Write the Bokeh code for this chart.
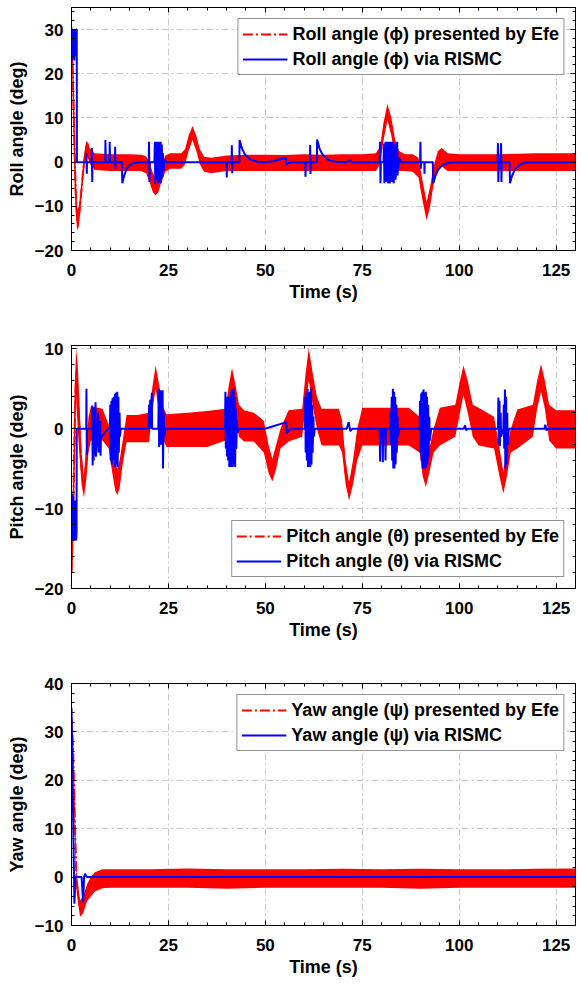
from bokeh.plotting import figure
from bokeh.models import (Range1d, SingleIntervalTicker, LinearAxis, Legend, LegendItem,
                          CustomLabelingPolicy)
from bokeh.layouts import column
from bokeh.embed import file_html
from bokeh.resources import INLINE

FONT = "Liberation Sans"

# ---------------- data ----------------
x_ticks_interval = 25
time_range = (0, 130)

# Roll: Efe response (noisy band: upper / lower envelope)
roll_efe_t = [0, 0.4, 0.8, 1.2, 1.5, 1.9, 2.3, 3.0, 3.5, 3.9, 4.4, 4.8, 6, 10, 15, 18, 19.3, 20.3, 21.0, 21.7,
              22.4, 23.2, 24.2, 25.5, 28.3, 29.3, 30.2, 31.2, 32.2, 33.1, 34.2, 36, 40, 45, 50, 55, 60, 65,
              70, 75, 78.5, 79.6, 80.5, 81.5, 82.5, 83.5, 84.5, 86, 88, 89.5, 90.5, 91.6, 92.5, 93.4, 94.5,
              95.5, 97, 100, 105, 110, 115, 120, 125, 130]
roll_efe_hi = [32, 25, 10, -5, -11, -10, -7, 0, 3.5, 4.8, 4.2, 3, 2, 1.8, 1.8, 1.7, 1.3, -0.5, -2.5, -3.5,
               -2.8, -0.8, 1.5, 2, 2, 3, 6, 8.2, 6, 3, 1.2, 1, 1.5, 1.7, 1.7, 1.6, 1.8, 1.7,
               1.8, 1.8, 2, 3.5, 9, 13.2, 10, 5, 2.5, 1.8, 1.8, 1, -4, -9, -5.5, -1, 2.5,
               3.2, 2, 1.8, 1.8, 1.8, 1.9, 2, 2, 2]
roll_efe_lo = [29, 10, -6, -13, -15.5, -14.5, -11, -4, 0, 1.5, 0.5, -0.5, -1.8, -2, -2, -2, -2.6, -5, -6.8, -7.5,
               -6.8, -4.5, -2.2, -1.5, -1.5, -0.5, 2.5, 5, 2.5, -0.5, -2.2, -2.5, -2, -2, -2, -2, -2, -2,
               -2, -2, -2, -0.5, 5, 9.5, 6, 1, -2, -2, -2.2, -3.5, -8.5, -13.2, -10, -5, -2,
               -1, -2, -2, -2, -2, -2, -2, -2, -2]

# Roll: RISMC response (time, value)
roll_rismc = [(0, 30), (0.15, 23), (0.3, 30), (0.45, 23.5), (0.6, 30), (0.75, 23), (0.9, 30), (1.05, 24),
              (1.2, 30), (1.35, 30), (1.4, 0),
              (3.8, 0), (3.85, 2), (3.95, -2.6), (4.0, 0),
              (5.2, 0), (5.25, 3.2), (5.35, -4.5), (5.4, 0),
              (8.7, 0), (8.75, 5), (8.85, 0), (9.8, 0), (9.85, 4.6), (9.95, 0),
              (11.2, 0), (11.25, 3.5), (11.35, -1.5), (11.4, 0),
              (13.0, 0), (13.1, -4.8), (13.6, -3.0), (14.2, -1.6), (15, -0.7), (16, -0.2), (17.5, 0),
              (19.9, 0), (20.0, 4.6), (20.1, -4.5), (20.2, 0), (21.4, 0), (21.5, 4.6), (21.6, -5), (21.7, 0),
              (22.0, 4.6), (22.1, -4), (22.3, 4.5), (22.4, -4.8), (22.6, 4.6), (22.7, -4.5), (23.0, 4.6),
              (23.1, -4.8), (23.3, 4.0), (23.4, -3.5), (23.6, 2), (23.7, -2), (24.0, 0.5), (24.5, 0),
              (40.0, 0), (40.05, -3.5), (40.1, 0), (41.3, 0), (41.35, 3.8), (41.45, -2.5), (41.5, 0),
              (43.3, 0), (43.35, 5), (44, 3), (44.7, 1.8), (45.5, 1), (46.5, 0.4), (48, 0.1), (50, 0),
              (52, 0.2), (54, 0.7), (55.3, 1.0), (55.35, -0.6), (56, -0.2), (57, 0),
              (60.3, 0), (60.35, -3.3), (60.45, 0), (61.5, 0), (61.55, 3.9), (61.65, -2.7), (61.7, 0),
              (63.3, 0), (63.35, 5.1), (64, 3), (64.7, 1.8), (65.5, 1), (66.5, 0.4), (68, 0.1), (71, 0),
              (71.9, 0.4), (72.3, 0),
              (79.5, 0), (79.6, 4.6), (79.7, -4.8), (79.8, 0), (80.5, 0), (80.6, 4.2), (80.7, -4.8),
              (81.0, 4.6), (81.1, -4.5), (81.5, 4.6), (81.6, -4.8), (82.0, 4.6), (82.1, -4.8), (82.5, 4.6),
              (82.6, -4.5), (83.0, 4.6), (83.1, -4.8), (83.5, 4.0), (83.6, -4.0), (84.0, 4.6), (84.1, -3),
              (84.5, 1), (85, 0),
              (89.9, 0), (90.0, 4.6), (90.1, -1.5), (90.2, 0), (91.0, 0), (91.05, -2.6), (91.1, 0),
              (93.2, 0), (93.3, -4.8), (93.8, -3.2), (94.5, -1.8), (95.5, -0.8), (97, -0.2), (99, 0),
              (109.9, 0), (110.0, 4.3), (110.1, -4.5), (110.2, 0), (110.7, 0), (110.8, 4.3), (110.9, -4.5),
              (111.0, 0), (113.0, 0), (113.1, -4.8), (113.6, -3.2), (114.3, -1.8), (115.3, -0.8),
              (116.5, -0.2), (118, 0), (130, 0)]

# Pitch: Efe response band
pitch_efe_t = [0, 0.4, 0.8, 1.2, 1.6, 2.0, 2.6, 3.2, 3.8, 4.4, 5, 8, 9.6, 10.5, 11.3, 11.8, 12.4, 13.2, 14.2, 17,
               20, 20.8, 21.7, 22.6, 23.4, 24.5, 30, 35, 39.7, 40.6, 41.4, 42.3, 43.2, 44.5, 47, 49.6, 50.8,
               51.8, 52.8, 53.9, 56, 59.5, 60.4, 61.2, 62.2, 63.3, 64.5, 69, 69.8, 70.7, 71.6, 72.6, 73.7,
               75, 87, 89.8, 90.6, 91.4, 92.3, 93.4, 95, 99, 100.2, 101.1, 102.2, 103.5, 105, 109, 110.4,
               111.4, 112.3, 113.3, 115, 119, 120.1, 121.1, 122.1, 123.2, 125, 130]
pitch_efe_hi = [-17, -6, 5, 10, 8, 4, -3, -6, -2, 1.5, 2.8, 2.5, 0.5, -2.5, -4.5, -5, -4, -1.5, 1.7, 1.7,
                2, 5, 7.9, 5.5, 3, 1.8, 2, 2.2, 2.5, 5.5, 7.6, 5.5, 3, 2.3, 2, 1, -2,
                -3.8, -2, 0, 2.3, 2.5, 7, 10.1, 7, 4, 2.5, 2.5, 1, -4, -6.7, -4, 0,
                2.6, 2.6, 1.5, -2.5, -4.6, -2.5, 0, 2.6, 3, 6, 7.9, 6, 3, 2.6, 1.5, -2.5,
                -5.4, -2.5, 0, 2.4, 3, 6, 8.1, 6, 3, 2.3, 2.3]
pitch_efe_lo = [-19, -16, -6, 4, 0, -3, -7, -8.6, -6.5, -3, -1.5, -1.5, -2.5, -5.5, -7.8, -8.3, -7.5, -4.5, -1.7, -1.7,
                -1.7, 2, 5, 2, -1, -2.3, -2.3, -2.3, -1.5, 1.5, 4, 1.5, -1, -1.6, -1.6, -3, -5.5,
                -6.6, -5, -2.5, -1.6, -1, 3, 6, 3, 0, -2.1, -2.1, -3, -7, -9, -7, -4,
                -2.1, -2.1, -3, -6, -7.3, -5.5, -3, -2.1, -1, 2, 4.2, 2, -1, -2.1, -2.5, -6,
                -8.1, -6, -3, -2.5, -1, 2.5, 4.6, 2.5, -1.5, -2.5, -2.5]

# Pitch: RISMC response (time, value)
pitch_rismc = [(0, -13.5), (0.15, -8.2), (0.3, -14), (0.45, -8.5), (0.6, -14), (0.75, -9), (0.9, -14),
               (1.05, -9), (1.2, -14), (1.3, -13), (1.35, 0),
               (3.8, 0), (3.85, 5), (3.95, -3.3), (4.0, 0), (5.3, 0), (5.35, 2.9), (5.45, -4.6), (5.6, 2.6),
               (5.7, -4.0), (6.2, 3.3), (6.3, -3.5), (6.9, 2.0), (7.0, -3.0), (7.4, 1), (7.5, -3.4),
               (7.6, -1.2), (8.5, -0.5), (9.5, 0), (9.9, 0),
               (10.0, 3.0), (10.1, -4.0), (10.3, 3.5), (10.4, -4.5), (10.6, 3.8), (10.7, -3.8), (10.9, 4.0),
               (11.0, -4.0), (11.2, 4.3), (11.3, -4.8), (11.5, 4.5), (11.6, -4.5), (11.8, 4.6), (11.9, -4.8),
               (12.1, 4.0), (12.2, -3), (12.4, 2), (12.5, -1), (12.7, 0),
               (19.9, 0), (20.0, 3.0), (20.1, 0), (20.3, 3.6), (20.4, 0), (20.7, 4.5), (20.8, 0), (22.4, 0),
               (22.5, 5.0), (22.6, -2.3), (22.8, 4.6), (22.9, -2.0), (23.1, 4.8), (23.2, -2), (23.5, 4.8),
               (23.6, -5.0), (23.8, 2), (23.9, -1), (24.3, 0),
               (39.6, 0), (39.7, 4.6), (39.8, -2.5), (40.0, 4.0), (40.1, -3.5), (40.3, 3.5), (40.4, -4.0),
               (40.6, 4), (40.7, -4.8), (40.9, 3.8), (41.0, -4.8), (41.2, 4.6), (41.3, -4.8), (41.5, 5.0),
               (41.6, -4.8), (41.8, 5.0), (41.9, -4.5), (42.1, 4), (42.2, -4.8), (42.4, 2.5), (42.5, -2.5),
               (42.7, 1), (42.8, -0.5), (43.2, 0),
               (50, 0), (52, 0.3), (54, 0.6), (55.4, 0.8), (55.5, -0.6), (56, -0.2), (57, 0),
               (60.2, 0), (60.3, 4.0), (60.4, -3), (60.6, 4.5), (60.7, -4), (60.9, 5.0), (61.0, -4.8),
               (61.2, 4.5), (61.3, -4.8), (61.5, 4.6), (61.6, -4.8), (61.8, 5), (61.9, -4.5), (62.1, 3),
               (62.2, -3), (62.4, 1.5), (62.5, -1), (62.8, 0),
               (71, 0), (71.5, 0.8), (71.9, -0.3), (72.5, 0),
               (79.5, 0), (79.6, -4.1), (79.7, 0), (80.2, 0), (80.3, -4.2), (80.4, 0), (80.9, 0), (81.0, -4.0),
               (81.1, 0),
               (82.2, 0), (82.3, 2), (82.4, -2), (82.6, 4), (82.7, -4), (82.9, 5), (83.0, -5), (83.2, 4.6),
               (83.3, -5), (83.5, 4), (83.6, -4.5), (83.8, 3), (83.9, -3), (84.1, 1.5), (84.2, -1), (84.6, 0),
               (89.8, 0), (89.9, 3.5), (90.0, -3), (90.2, 4.4), (90.3, -4), (90.5, 4.6), (90.6, -5),
               (90.8, 4.9), (90.9, -5), (91.1, 4.5), (91.2, -5), (91.4, 4.6), (91.5, -4.8), (91.7, 4),
               (91.8, -4.5), (92.0, 3), (92.1, -3.5), (92.3, 1.5), (92.4, -1.5), (92.8, 0),
               (101.2, 0), (101.5, 0.4), (101.8, -0.2), (102.2, 0),
               (110.0, 0), (110.1, 3.9), (110.2, -2), (110.4, 3.5), (110.5, -2.2), (110.7, 2), (110.8, -1),
               (111.4, 0), (111.5, 3), (111.6, -2.5), (111.8, 4.9), (111.9, -5), (112.1, 4.0), (112.2, -4.5),
               (112.4, 2), (112.5, -2), (112.8, 0),
               (122, 0), (122.2, 0.5), (122.5, -0.2), (123, 0), (130, 0)]

# Yaw: Efe response band
yaw_efe_t = [0, 0.4, 0.8, 1.3, 2.2, 3.0, 4.0, 5.0, 6.0, 8, 10, 20, 30, 40, 50, 60, 70, 80, 90, 100, 110, 120, 130]
yaw_efe_hi = [34, 30, 18, 1, -4.8, -4, -1.5, 0, 1.0, 1.6, 1.6, 1.6, 1.8, 1.6, 1.6, 1.6, 1.7, 1.6, 1.7, 1.6,
              1.6, 1.7, 1.8]
yaw_efe_lo = [32, 24, 10, -3, -8.2, -7.5, -5, -4, -3, -2.3, -2.2, -2.2, -2.2, -2.4, -2.2, -2.2, -2.2, -2.2,
              -2.4, -2.2, -2.2, -2.2, -2.2]

# Yaw: RISMC response (time, value)
yaw_rismc = [(0, 35), (0.75, -5.5), (1.0, 0), (2.6, 0), (3.0, -5.2), (3.25, 0), (3.5, 0.7), (4.0, 0), (130, 0)]

# ---------------- figure builder ----------------
def make_fig(height, yr, b_top, b_bottom, ylabel, et, ehi, elo, rismc, lab_red, lab_blue, loc):
    p = figure(width=578, height=height, output_backend="svg", toolbar_location=None,
               x_range=Range1d(*time_range), y_range=Range1d(*yr),
               min_border_left=71, min_border_right=3, min_border_top=b_top,
               min_border_bottom=b_bottom)
    p.background_fill_color = "white"
    p.border_fill_color = "white"
    p.outline_line_color = "black"
    p.outline_line_width = 1

    xt = SingleIntervalTicker(interval=x_ticks_interval, num_minor_ticks=5)
    yt = SingleIntervalTicker(interval=10, num_minor_ticks=5)
    p.xaxis.ticker = xt
    p.yaxis.ticker = yt
    p.xgrid.ticker = xt
    p.ygrid.ticker = yt
    for g in (p.xgrid, p.ygrid):
        g.grid_line_color = "#c8c8c8"
        g.grid_line_dash = "7 3 2 3"
        g.grid_line_width = 1

    p.xaxis.axis_label = "Time (s)"
    p.yaxis.axis_label = ylabel
    for ax in p.axis:
        ax.major_label_text_font = FONT
        ax.major_label_text_font_style = "bold"
        ax.major_label_text_font_size = "17px"
        ax.major_label_text_color = "black"
        ax.axis_label_text_font = FONT
        ax.axis_label_text_font_style = "bold"
        ax.axis_label_text_font_size = "18px"
        ax.axis_label_text_color = "black"
        ax.axis_line_color = "black"
        ax.major_tick_line_color = "black"
        ax.minor_tick_line_color = "black"
        ax.major_tick_in = 5
        ax.major_tick_out = 0
        ax.minor_tick_in = 3
        ax.minor_tick_out = 0
    p.xaxis.major_label_standoff = 13
    p.xaxis.axis_label_standoff = 3
    p.yaxis.major_label_standoff = 8
    p.yaxis.axis_label_standoff = 5

    for side, tk in (("above", xt), ("right", yt)):
        ax = LinearAxis(ticker=tk, major_label_text_font_size="0px", major_label_standoff=0,
                        major_label_policy=CustomLabelingPolicy(code="return new Set()"),
                        major_tick_in=5, major_tick_out=0, minor_tick_in=3, minor_tick_out=0,
                        axis_line_color="black", major_tick_line_color="black",
                        minor_tick_line_color="black")
        p.add_layout(ax, side)

    mid = [(a + b) / 2 for a, b in zip(ehi, elo)]
    p.varea(x=et, y1=elo, y2=ehi, fill_color="red", fill_alpha=1)
    r_red = p.line(et, mid, line_color="red", line_width=2, line_dash="10 3 2 3")
    bt = [a for a, _ in rismc]
    bv = [b for _, b in rismc]
    r_blue = p.line(bt, bv, line_color="blue", line_width=2)

    leg = Legend(items=[LegendItem(label=lab_red, renderers=[r_red]),
                        LegendItem(label=lab_blue, renderers=[r_blue])],
                 location=loc)
    leg.label_text_font = FONT
    leg.label_text_font_style = "bold"
    leg.label_text_font_size = "18px"
    leg.label_text_color = "black"
    leg.glyph_width = 45
    leg.glyph_height = 22
    leg.label_height = 22
    leg.label_standoff = 5
    leg.spacing = 3
    leg.padding = 4
    leg.margin = 11
    leg.border_line_color = "#262626"
    leg.border_line_width = 1
    leg.background_fill_color = "white"
    leg.background_fill_alpha = 1
    p.add_layout(leg)
    return p

p1 = make_fig(333, (-20, 35), 7, 83, "Roll angle (deg)", roll_efe_t, roll_efe_hi, roll_efe_lo, roll_rismc,
              "Roll angle (\u03d5) presented by Efe", "Roll angle (\u03d5) via RISMC", "top_right")
p2 = make_fig(340, (-20, 10.4), 12, 85, "Pitch angle (deg)", pitch_efe_t, pitch_efe_hi, pitch_efe_lo, pitch_rismc,
              "Pitch angle (\u03b8) presented by Efe", "Pitch angle (\u03b8) via RISMC", "bottom_right")
p3 = make_fig(309, (-10, 40), 10, 57, "Yaw angle (deg)", yaw_efe_t, yaw_efe_hi, yaw_efe_lo, yaw_rismc,
              "Yaw angle (\u03c8) presented by Efe", "Yaw angle (\u03c8) via RISMC", "top_right")

layout = column(p1, p2, p3, spacing=0)
open("out.html", "w").write(file_html(layout, INLINE))
